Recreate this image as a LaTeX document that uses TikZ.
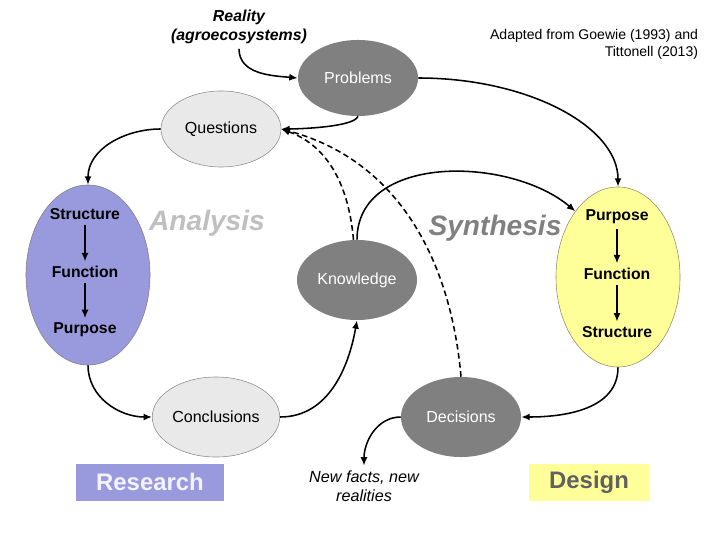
\documentclass[tikz,border=0pt]{standalone}
\usepackage{fontspec}
\setmainfont{Liberation Sans}
\usetikzlibrary{arrows.meta,shapes.geometric}
\definecolor{lavender}{HTML}{9999DD}
\definecolor{paleyellow}{HTML}{FFFF99}
\definecolor{midgray}{HTML}{808080}
\definecolor{palegray}{HTML}{E9E9E9}

\begin{document}
\begin{tikzpicture}[x=0.025cm,y=0.025cm,
  flow/.style={-{Latex[length=6pt,width=5pt]},line width=1.1pt},
  feedback/.style={flow,dash pattern=on 4pt off 2.5pt},
  darkell/.style={ellipse,fill=midgray,text=white,inner sep=1pt,minimum width=3cm,minimum height=2cm,font=\fontsize{11.4}{13.5}\selectfont},
  lightell/.style={darkell,fill=palegray,draw=gray!90,thin,text=black},
  bigell/.style={ellipse,draw=gray,thin,minimum width=3.1cm,minimum height=4.5cm},
  stagetext/.style={font=\bfseries\fontsize{11.2}{13}\selectfont},
  phasetext/.style={font=\bfseries\itshape\fontsize{20}{24}\selectfont},
  boxtext/.style={minimum height=0.925cm,font=\bfseries\fontsize{17}{20}\selectfont}]
\useasboundingbox (0,0) rectangle (720,540);

\node[align=center,font=\bfseries\itshape\fontsize{11.3}{13.5}\selectfont] (reality) at (239,513) {Reality\\(agroecosystems)};
\node[anchor=east,align=right,font=\fontsize{10}{12.1}\selectfont] (source) at (703,496) {Adapted from Goewie (1993) and\\Tittonell (2013)};

\node[darkell,minimum height=1.9cm] (problems) at (358,462) {Problems};
\node[lightell,minimum height=1.9cm] (questions) at (221,411) {Questions};
\node[darkell] (knowledge) at (357,260) {Knowledge};
\node[lightell] (conclusions) at (216,123) {Conclusions};
\node[darkell] (decisions) at (461,123) {Decisions};

% analysis and design cycles
\node[bigell,fill=lavender] (analysisell) at (88,265) {};
\node[bigell,fill=paleyellow,draw=gray!70!olive] (designell) at (618,263) {};
\node[stagetext] (astruct) at (85,326) {Structure};
\node[stagetext] (afunc) at (85,268) {Function};
\node[stagetext] (apurp) at (85,210) {Purpose};
\node[stagetext] (dpurp) at (617,323) {Purpose};
\node[stagetext] (dfunc) at (617,266) {Function};
\node[stagetext] (dstruct) at (617,208) {Structure};
\draw[flow,line width=0.9pt] (astruct) -- (afunc);
\draw[flow,line width=0.9pt] (afunc) -- (apurp);
\draw[flow,line width=0.9pt] (dpurp) -- (dfunc);
\draw[flow,line width=0.9pt] (dfunc) -- (dstruct);

\node[phasetext,text=black!25] (analysis) at (207,317) {Analysis};
\node[phasetext,text=midgray] (synthesis) at (495,312) {Synthesis};

\node[boxtext,fill=lavender,text=white!88!lavender,minimum width=3.7cm] (research) at (150,58) {Research};
\node[boxtext,fill=paleyellow,text=black!62,minimum width=3cm] (design) at (589,58) {Design};
\node[align=center,font=\itshape\fontsize{11.5}{13.5}\selectfont] (newfacts) at (364,54) {New facts, new\\realities};

\draw[flow] (reality.south) to[out=-90,in=175] (problems.west);
\draw[flow] (problems.south) to[out=-110,in=0,looseness=0.4] (questions.east);
\draw[flow] (problems.east) .. controls +(110,0) and +(0,60) .. (designell.north);
\draw[flow] (questions.west) to[out=180,in=90] (analysisell.north);
\draw[flow] (analysisell.south) to[out=-90,in=180] (conclusions.west);
\draw[flow] (conclusions.east) to[out=0,in=-100] (knowledge.south);
\draw[flow] (knowledge.north) to[out=90,in=140] (designell.123);
\draw[flow] (designell.south) to[out=-90,in=0] (decisions.east);
\draw[flow] (decisions.west) to[out=180,in=90] (newfacts.north);

% feedback loops
\draw[feedback] (knowledge.95) to[out=95,in=-20] (questions.east);
\draw[feedback] (decisions.north) to[out=95,in=-15] (questions.east);
\end{tikzpicture}
\end{document}
